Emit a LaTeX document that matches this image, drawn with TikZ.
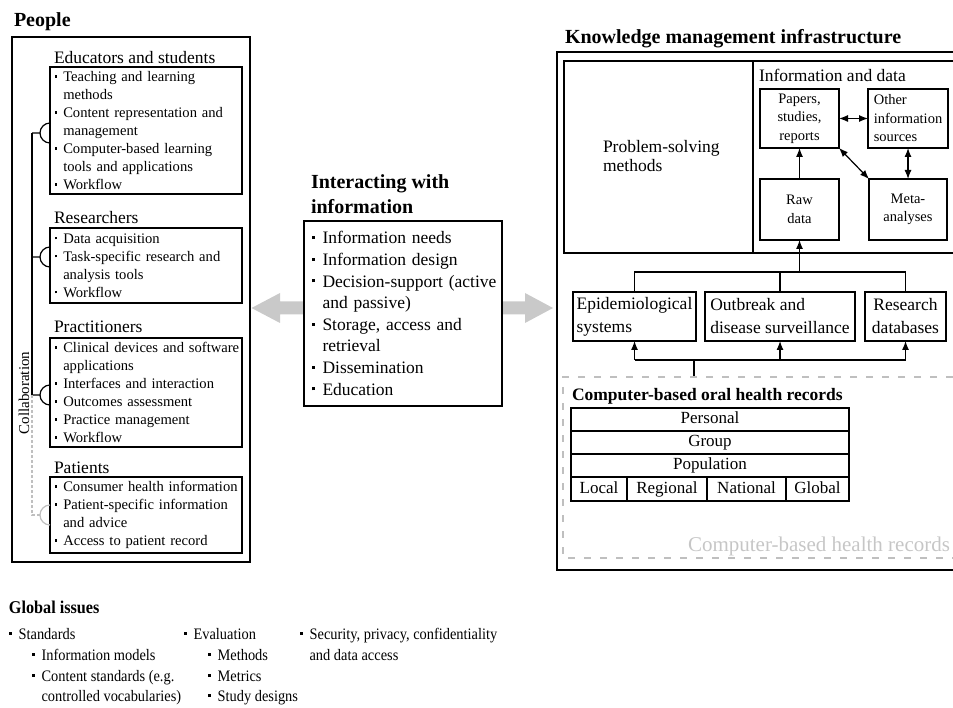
\documentclass[tikz,border=0pt]{standalone}
\usepackage{fontspec}
\setmainfont{Liberation Serif}
\newfontfamily\narrowfont[FakeStretch=0.9]{Liberation Serif}
\usetikzlibrary{arrows.meta,calc,backgrounds}
\newcommand\bl{\makebox[0.6em][l]{\rule[0.27em]{0.17em}{0.17em}}}
\newcommand\ind{\hspace*{0.6em}}
\newcommand\bi[1]{\mbox{\bl #1}}
\newcommand\ci[1]{\mbox{\ind #1}}
\begin{document}
\begin{tikzpicture}[x=1pt,y=-1pt,
  every node/.style={inner sep=0pt,outer sep=0pt},
  bx/.style={draw,line width=1.2pt,anchor=north west},
  lbox/.style={bx,align=left,font=\fontsize{14.6}{18}\selectfont,inner xsep=4.5pt,text width=183pt,minimum width=192pt},
  hd/.style={anchor=base west,font=\fontsize{17.5}{20}\selectfont},
  bhd/.style={anchor=base west,font=\bfseries\fontsize{20}{24}\selectfont},
  gi/.style={anchor=base west,font=\narrowfont\fontsize{16}{19}\selectfont},
  sbox/.style={bx,align=center,font=\fontsize{14.5}{18.5}\selectfont},
  mbox/.style={bx,align=left,font=\fontsize{17.5}{23}\selectfont},
  cell/.style={bx,font=\fontsize{17}{20}\selectfont,text height=12pt,text depth=4pt},
  con/.style={line width=1.2pt},
  arr/.style={con,-{Latex[length=9pt,width=7pt]}},
  darr/.style={con,{Latex[length=9pt,width=7pt]}-{Latex[length=9pt,width=7pt]}},
  bigarrow/.style={fill=gray!42,draw=none},
]
\useasboundingbox (0,0) rectangle (953,708);

% ---------------- People ----------------
\node[bhd] (ppl) at (14,27) {People};
\node[bx,line width=1.3pt,minimum width=238pt,minimum height=525pt] (people) at (12,37) {};
\node[hd] (eduh) at (54,64) {Educators and students};
\node[lbox,minimum height=127pt] (edu) at (50,67) {\bi{Teaching and learning}\\\ci{methods}\\\bi{Content representation and}\\\ci{management}\\\bi{Computer-based learning}\\\ci{tools and applications}\\\bi{Workflow}};
\node[hd] (resh) at (54,224) {Researchers};
\node[lbox,minimum height=75pt] (resb) at (50,228) {\bi{Data acquisition}\\\bi{Task-specific research and}\\\ci{analysis tools}\\\bi{Workflow}};
\node[hd] (prah) at (54,333) {Practitioners};
\node[lbox,minimum height=109pt] (prab) at (50,338) {\bi{Clinical devices and software}\\\ci{applications}\\\bi{Interfaces and interaction}\\\bi{Outcomes assessment}\\\bi{Practice management}\\\bi{Workflow}};
\node[hd] (path) at (54,473) {Patients};
\node[lbox,minimum height=76pt] (patb) at (50,477) {\bi{Consumer health information}\\\bi{Patient-specific information}\\\ci{and advice}\\\bi{Access to patient record}};

% collaboration bracket
\draw[con] (32,133) -- (32,395);
\foreach \yy in {133,257,395}{
  \draw[con] (32,\yy) -- (40,\yy) .. controls (40,\yy-5.5) and (44.5,\yy-10) .. (50,\yy-10);
  \draw[con] (40,\yy) .. controls (40,\yy+5.5) and (44.5,\yy+10) .. (50,\yy+10);
}
\draw[con,gray!50,dash pattern=on 3pt off 2pt] (32,395) -- (32,515) -- (40,515);
\draw[con,gray!50] (40,515) .. controls (40,509.5) and (44.5,505) .. (50,505);
\draw[con,gray!50] (40,515) .. controls (40,520.5) and (44.5,525) .. (50,525);
\node[rotate=90,font=\fontsize{15}{18}\selectfont] (collab) at (24,393) {Collaboration};

% ---------------- Interacting ----------------
\node[bhd] (iw1) at (311,189) {Interacting with};
\node[bhd] (iw2) at (311,214) {information};
\node[bx,align=left,font=\fontsize{17.5}{21.6}\selectfont,inner xsep=8pt,text width=182pt,minimum width=198pt,minimum height=185pt] (center) at (304,221) {\bi{Information needs}\\\bi{Information design}\\\bi{Decision-support (active}\\\ci{and passive)}\\\bi{Storage, access and}\\\ci{retrieval}\\\bi{Dissemination}\\\bi{Education}};

% ---------------- Knowledge management ----------------
\node[bhd] (kmh) at (565,44) {Knowledge management infrastructure};
\coordinate (kmtl) at (557,52);
\draw[line width=1.3pt] (953,52) -- (kmtl) -- (557,570) -- (953,570);
\draw[line width=1.8pt] (953,61) -- (564,61) -- (564,253) -- (953,253);
\draw[line width=1.3pt] (753,61) -- (753,253);
\node[hd] (psm1) at (603,153) {Problem-solving};
\node[hd] (psm2) at (603,172) {methods};
\node[hd] (iad) at (759,82) {Information and data};
\node[sbox,minimum width=79pt,minimum height=59pt] (pap) at (760,89) {Papers,\\studies,\\reports};
\node[sbox,align=left,minimum width=80pt,minimum height=59pt] (oth) at (868,89) {Other\\information\\sources};
\node[sbox,minimum width=79pt,minimum height=61pt] (raw) at (760,179) {Raw\\data};
\node[sbox,minimum width=78pt,minimum height=61pt] (meta) at (869,179) {Meta-\\analyses};
\draw[darr] (pap.east) -- (oth.west);
\draw[arr] (raw.north) -- (pap.south);
\draw[darr] (pap.south east) -- (meta.north west);
\draw[darr] (oth.south) -- (meta.north);

\node[mbox,minimum width=123pt,minimum height=49pt] (epi) at (573,292) {Epidemiological\\systems};
\node[mbox,minimum width=150pt,minimum height=49pt] (outb) at (705,292) {Outbreak and\\disease surveillance};
\node[mbox,align=center,minimum width=81pt,minimum height=49pt] (rdb) at (865,292) {Research\\databases};

\coordinate (junc) at ($(raw.south)+(0,32)$);
\draw[arr] (junc) -- (raw.south);
\draw[con] (epi.north) |- (junc) -| (rdb.north);
\draw[con] (outb.north) -- (outb.north |- junc);

\coordinate (bus) at (0,360);
\coordinate (cbt) at (694,377);
\draw[con] (cbt) -- (cbt |- bus);
\draw[con] (epi.south |- bus) -- (rdb.south |- bus);
\draw[arr] (epi.south |- bus) -- (epi.south);
\draw[arr] (outb.south |- bus) -- (outb.south);
\draw[arr] (rdb.south |- bus) -- (rdb.south);

\draw[gray!50,line width=1.2pt,dash pattern=on 7pt off 9pt] (953,377) -- (563,377) -- (563,558) -- (953,558);
\node[anchor=base west,font=\bfseries\fontsize{17.5}{20}\selectfont] (cboh) at (572,401) {Computer-based oral health records};
\node[cell,minimum width=278pt,minimum height=23pt] (pers) at (571,408) {Personal};
\node[cell,minimum width=278pt,minimum height=23pt] (grp) at (571,431) {Group};
\node[cell,minimum width=278pt,minimum height=23pt] (popn) at (571,454) {Population};
\node[cell,minimum width=56pt,minimum height=24pt] (loc) at (571,477) {Local};
\node[cell,minimum width=80pt,minimum height=24pt] (reg) at (627,477) {Regional};
\node[cell,minimum width=79pt,minimum height=24pt] (nat) at (707,477) {National};
\node[cell,minimum width=63pt,minimum height=24pt] (glo) at (786,477) {Global};
\node[anchor=base east,font=\fontsize{21}{24}\selectfont,text=gray!45] (cbhr) at (950,551) {Computer-based health records};

% ---------------- big arrows ----------------
\coordinate (ay) at (0,308);
\begin{scope}[on background layer]
\fill[bigarrow] ($(center.west |- ay)+(0,-6.5)$) -- ++(-24,0) -- ++(0,-8.5) -- ($(people.east |- ay)+(1.5,0)$) -- ++(28.5,15) -- ++(0,-8.5) -- ($(center.west |- ay)+(0,6.5)$) -- cycle;
\fill[bigarrow] ($(center.east |- ay)+(0,-6.5)$) -- ++(23,0) -- ++(0,-8.5) -- ($(kmtl |- ay)+(-4,0)$) -- ++(-28,15) -- ++(0,-8.5) -- ($(center.east |- ay)+(0,6.5)$) -- cycle;
\end{scope}

% ---------------- Global issues ----------------
\node[anchor=base west,font=\narrowfont\bfseries\fontsize{18}{21}\selectfont] (gih) at (9,613) {Global issues};
\node[gi] (g1) at (9,639) {\bl Standards};
\node[gi] (g2) at (32,660) {\bl Information models};
\node[gi] (g3) at (32,681) {\bl Content standards (e.g.};
\node[gi] (g4) at (32,701) {\ind controlled vocabularies)};
\node[gi] (g5) at (184,639) {\bl Evaluation};
\node[gi] (g6) at (208,660) {\bl Methods};
\node[gi] (g7) at (208,681) {\bl Metrics};
\node[gi] (g8) at (208,701) {\bl Study designs};
\node[gi] (g9) at (300,639) {\bl Security, privacy, confidentiality};
\node[gi] (g10) at (300,660) {\ind and data access};
\end{tikzpicture}
\end{document}
